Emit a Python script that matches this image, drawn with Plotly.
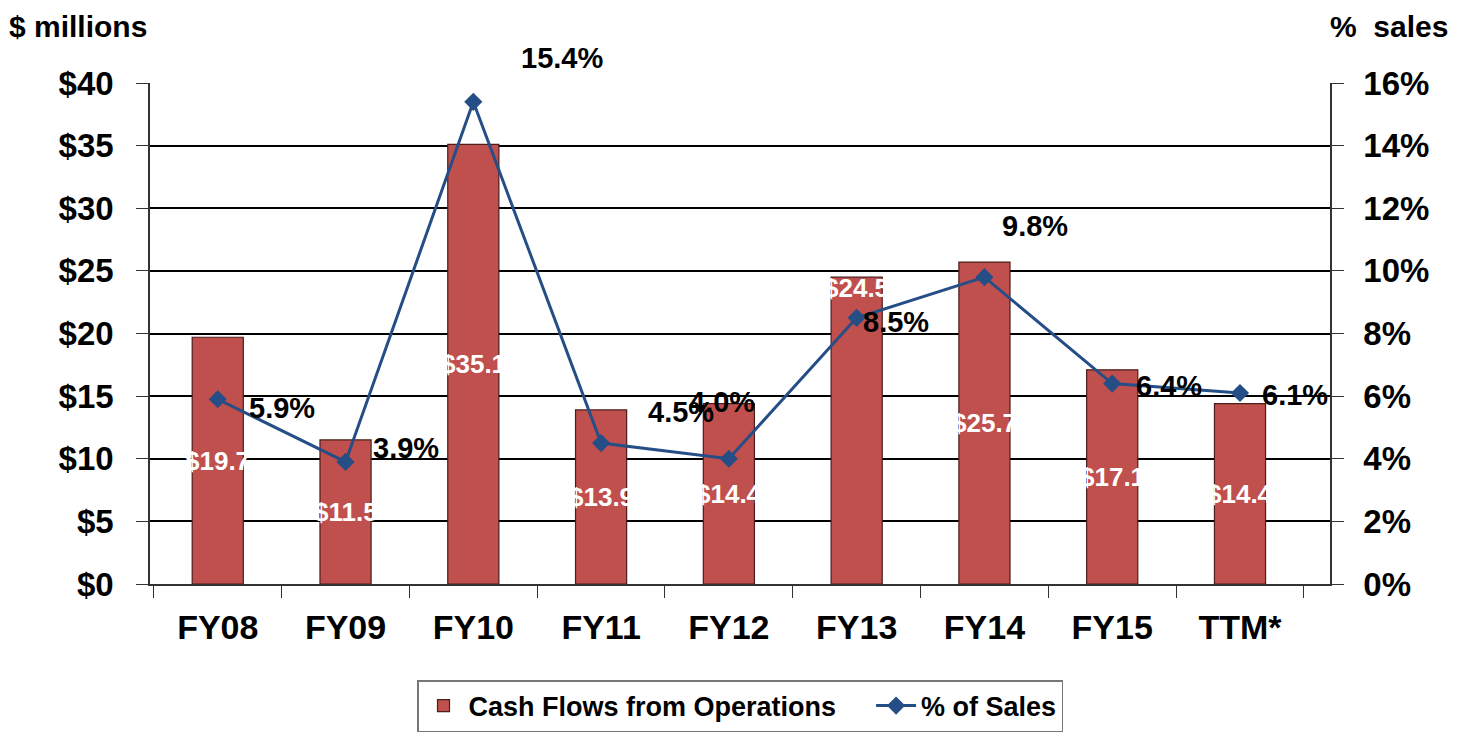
import plotly.graph_objects as go

categories = ["FY08", "FY09", "FY10", "FY11", "FY12", "FY13", "FY14", "FY15", "TTM*"]
cash_flows = [19.7, 11.5, 35.1, 13.9, 14.4, 24.5, 25.7, 17.1, 14.4]
pct_sales = [5.9, 3.9, 15.4, 4.5, 4.0, 8.5, 9.8, 6.4, 6.1]
cash_labels = ["$19.7", "$11.5", "$35.1", "$13.9", "$14.4", "$24.5", "$25.7", "$17.1", "$14.4"]
pct_labels = ["5.9%", "3.9%", "15.4%", "4.5%", "4.0%", "8.5%", "9.8%", "6.4%", "6.1%"]

# label offsets (pixels) for % labels: (xshift, yshift)
pct_offsets = [(29, -9), (25, 14), (46, 44), (45, 31), (-42, 57), (4, -4), (16, 51), (22, -2), (20, -2)]

FONT = "Liberation Sans, Arial, sans-serif"
BAR_COLOR = "#C0504D"
LINE_COLOR = "#254E86"

fig = go.Figure()
fig.add_trace(go.Bar(
    x=categories, y=cash_flows, name="Cash Flows from Operations\u00a0\u00a0\u00a0\u00a0",
    marker=dict(color=BAR_COLOR, line=dict(color="#4a1c1a", width=1.2)),
    width=0.4, yaxis="y",
))
fig.add_trace(go.Scatter(
    x=categories, y=pct_sales, name="% of Sales", mode="lines+markers",
    line=dict(color=LINE_COLOR, width=3),
    marker=dict(symbol="diamond", size=14, color=LINE_COLOR),
    yaxis="y2",
))

annotations = []
for c, v, lab in zip(categories, cash_flows, cash_labels):
    ypos = v / 2 if c != "FY13" else v - 0.9
    annotations.append(dict(x=c, y=ypos, xref="x", yref="y", text="<b>%s</b>" % lab, showarrow=False,
                            font=dict(family=FONT, size=26, color="white"),
                            xanchor="center", yanchor="middle"))
for c, p, lab, (dx, dy) in zip(categories, pct_sales, pct_labels, pct_offsets):
    annotations.append(dict(x=c, y=p, xref="x", yref="y2", text="<b>%s</b>" % lab, showarrow=False,
                            font=dict(family=FONT, size=29, color="black"),
                            xanchor="left", yanchor="middle", xshift=dx, yshift=dy))
annotations.append(dict(x=-0.121, y=1.1497, xref="paper", yref="paper", text="<b>$ millions</b>",
                        showarrow=False, font=dict(family=FONT, size=30, color="black"),
                        xanchor="left", yanchor="top"))
annotations.append(dict(x=1.1017, y=1.1497, xref="paper", yref="paper", text="<b>%  sales</b>",
                        showarrow=False, font=dict(family=FONT, size=30, color="black"),
                        xanchor="right", yanchor="top"))

fig.update_layout(
    width=1467, height=733,
    margin=dict(l=142, r=145, t=75, b=157),
    paper_bgcolor="white", plot_bgcolor="white",
    font=dict(family=FONT, color="black"),
    showlegend=True,
    legend=dict(orientation="h", x=0.5, xanchor="center", y=0.0832, yanchor="top", yref="container",
                bordercolor="#777777", borderwidth=1.5,
                font=dict(family=FONT, size=27, color="black", weight="bold"),
                itemwidth=40),
    annotations=annotations,
    xaxis=dict(showline=True, linecolor="#333333", linewidth=1.5, ticks="outside", ticklen=12,
               tickcolor="#333333", tickson="boundaries", showgrid=False, automargin=False,
               ticklabelstandoff=12,
               tickfont=dict(family=FONT, size=34, color="black", weight="bold")),
    yaxis=dict(range=[0, 40], dtick=5, tickprefix="$", showgrid=True, gridcolor="black", gridwidth=1.5,
               showline=True, linecolor="#333333", linewidth=1.5, ticks="outside", ticklen=12,
               tickcolor="#333333", zeroline=False, automargin=False, ticklabelstandoff=16,
               tickfont=dict(family=FONT, size=33, color="black", weight="bold")),
    yaxis2=dict(range=[0, 16], dtick=2, ticksuffix="%", overlaying="y", side="right", showgrid=False,
                showline=True, linecolor="#333333", linewidth=1.5, ticks="outside", ticklen=12,
                tickcolor="#333333", zeroline=False, automargin=False, ticklabelstandoff=13,
                tickfont=dict(family=FONT, size=33, color="black", weight="bold")),
    bargap=0.6,
)

fig.write_html("out.html")
